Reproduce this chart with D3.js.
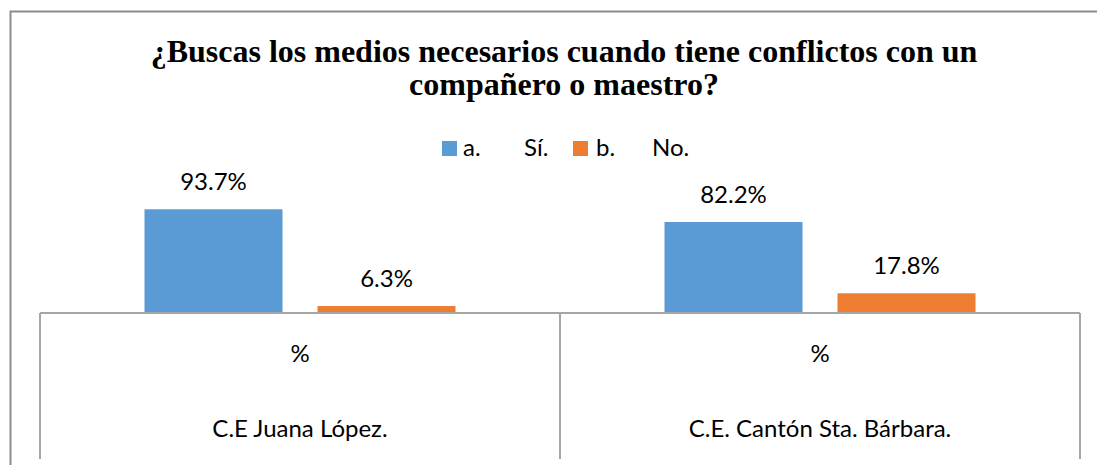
<!DOCTYPE html>
<html>
<head>
<meta charset="utf-8">
<script src="https://cdn.jsdelivr.net/npm/d3@7"></script>
<style>
  html, body { margin: 0; padding: 0; background: #fff; }
  svg { display: block; }
</style>
</head>
<body>
<svg id="chart" width="1097" height="465"></svg>
<script>
// ---- data ----
const titleLines = ["¿Buscas los medios necesarios cuando tiene conflictos con un", "compañero o maestro?"];
const categories = ["C.E Juana López.", "C.E. Cantón Sta. Bárbara."];
const rowLabel = "%";
const seriesNames = ["a.\tSí.", "b.\tNo."];
const seriesA = [93.7, 82.2];
const seriesB = [6.3, 17.8];
const colors = ["#5B9BD5", "#ED7D31"];

const values = [seriesA, seriesB];

const svg = d3.select("#chart");
const bodyFont = "Lato, 'Open Sans', sans-serif";
const bodySize = 24;

// outer chart border
svg.append("rect")
  .attr("x", 10.5).attr("y", 11.5)
  .attr("width", 1120).attr("height", 480)
  .attr("fill", "#fff")
  .attr("stroke", "#8c8c8c").attr("stroke-width", 2);

// title
svg.append("g").selectAll("text").data(titleLines).join("text")
  .attr("x", 564).attr("y", (d, i) => 62 + i * 33)
  .attr("text-anchor", "middle")
  .attr("font-family", "'Liberation Serif', 'Times New Roman', serif")
  .attr("font-weight", "bold")
  .attr("font-size", 32)
  .attr("fill", "#000")
  .text(d => d);

// scales
const plotLeft = 40, plotRight = 1080, baseY = 313, tableBottom = 459;
const x = d3.scaleBand().domain(categories).range([plotLeft, plotRight]).padding(0);
const x1 = d3.scaleBand().domain(seriesNames).range([0, x.bandwidth()])
  .paddingInner(0.2023).paddingOuter(0.604);
const y = d3.scaleLinear().domain([0, 100]).range([baseY, 202.3]);

// bars
const rows = [];
categories.forEach((c, ci) => seriesNames.forEach((s, si) => rows.push({c, s, si, v: values[si][ci]})));

svg.append("g").selectAll("rect").data(rows).join("rect")
  .attr("x", d => x(d.c) + x1(d.s))
  .attr("y", d => y(d.v))
  .attr("width", x1.bandwidth())
  .attr("height", d => y(0) - y(d.v))
  .attr("fill", d => colors[d.si]);

// data labels
svg.append("g").selectAll("text").data(rows).join("text")
  .attr("x", d => x(d.c) + x1(d.s) + x1.bandwidth() / 2)
  .attr("y", d => y(d.v) - 19)
  .attr("text-anchor", "middle")
  .attr("font-family", bodyFont)
  .attr("font-size", bodySize)
  .attr("fill", "#000")
  .text(d => d.v.toFixed(1) + "%");

// axis table
const lineColor = "#a6a6a6";
const tbl = svg.append("g").attr("stroke", lineColor).attr("stroke-width", 2).attr("fill", "none");
tbl.append("line").attr("x1", plotLeft).attr("x2", plotRight).attr("y1", baseY).attr("y2", baseY);
const edges = [plotLeft, ...categories.map(c => x(c) + x.bandwidth())];
tbl.selectAll("line.v").data(edges).join("line").attr("class", "v")
  .attr("x1", d => d).attr("x2", d => d)
  .attr("y1", baseY).attr("y2", tableBottom);

svg.append("g").selectAll("text").data(categories).join("text")
  .attr("x", d => x(d) + x.bandwidth() / 2)
  .attr("y", 362)
  .attr("text-anchor", "middle")
  .attr("font-family", bodyFont).attr("font-size", bodySize).attr("fill", "#000")
  .text(rowLabel);

svg.append("g").selectAll("text").data(categories).join("text")
  .attr("x", d => x(d) + x.bandwidth() / 2)
  .attr("y", 437)
  .attr("text-anchor", "middle")
  .attr("font-family", bodyFont).attr("font-size", bodySize).attr("fill", "#000")
  .text(d => d);

// legend
const legendItems = [
  {sq: 442, t1: 463, t2: 524},
  {sq: 573, t1: 596, t2: 652}
];
const lg = svg.append("g");
seriesNames.forEach((s, i) => {
  const L = legendItems[i];
  const parts = s.split("\t");
  lg.append("rect").attr("x", L.sq).attr("y", 141).attr("width", 15).attr("height", 15).attr("fill", colors[i]);
  const t = lg.append("text").attr("y", 156)
    .attr("font-family", bodyFont).attr("font-size", bodySize).attr("fill", "#000");
  t.append("tspan").attr("x", L.t1).text(parts[0]);
  t.append("tspan").attr("x", L.t2).text(parts[1]);
});
</script>
</body>
</html>
